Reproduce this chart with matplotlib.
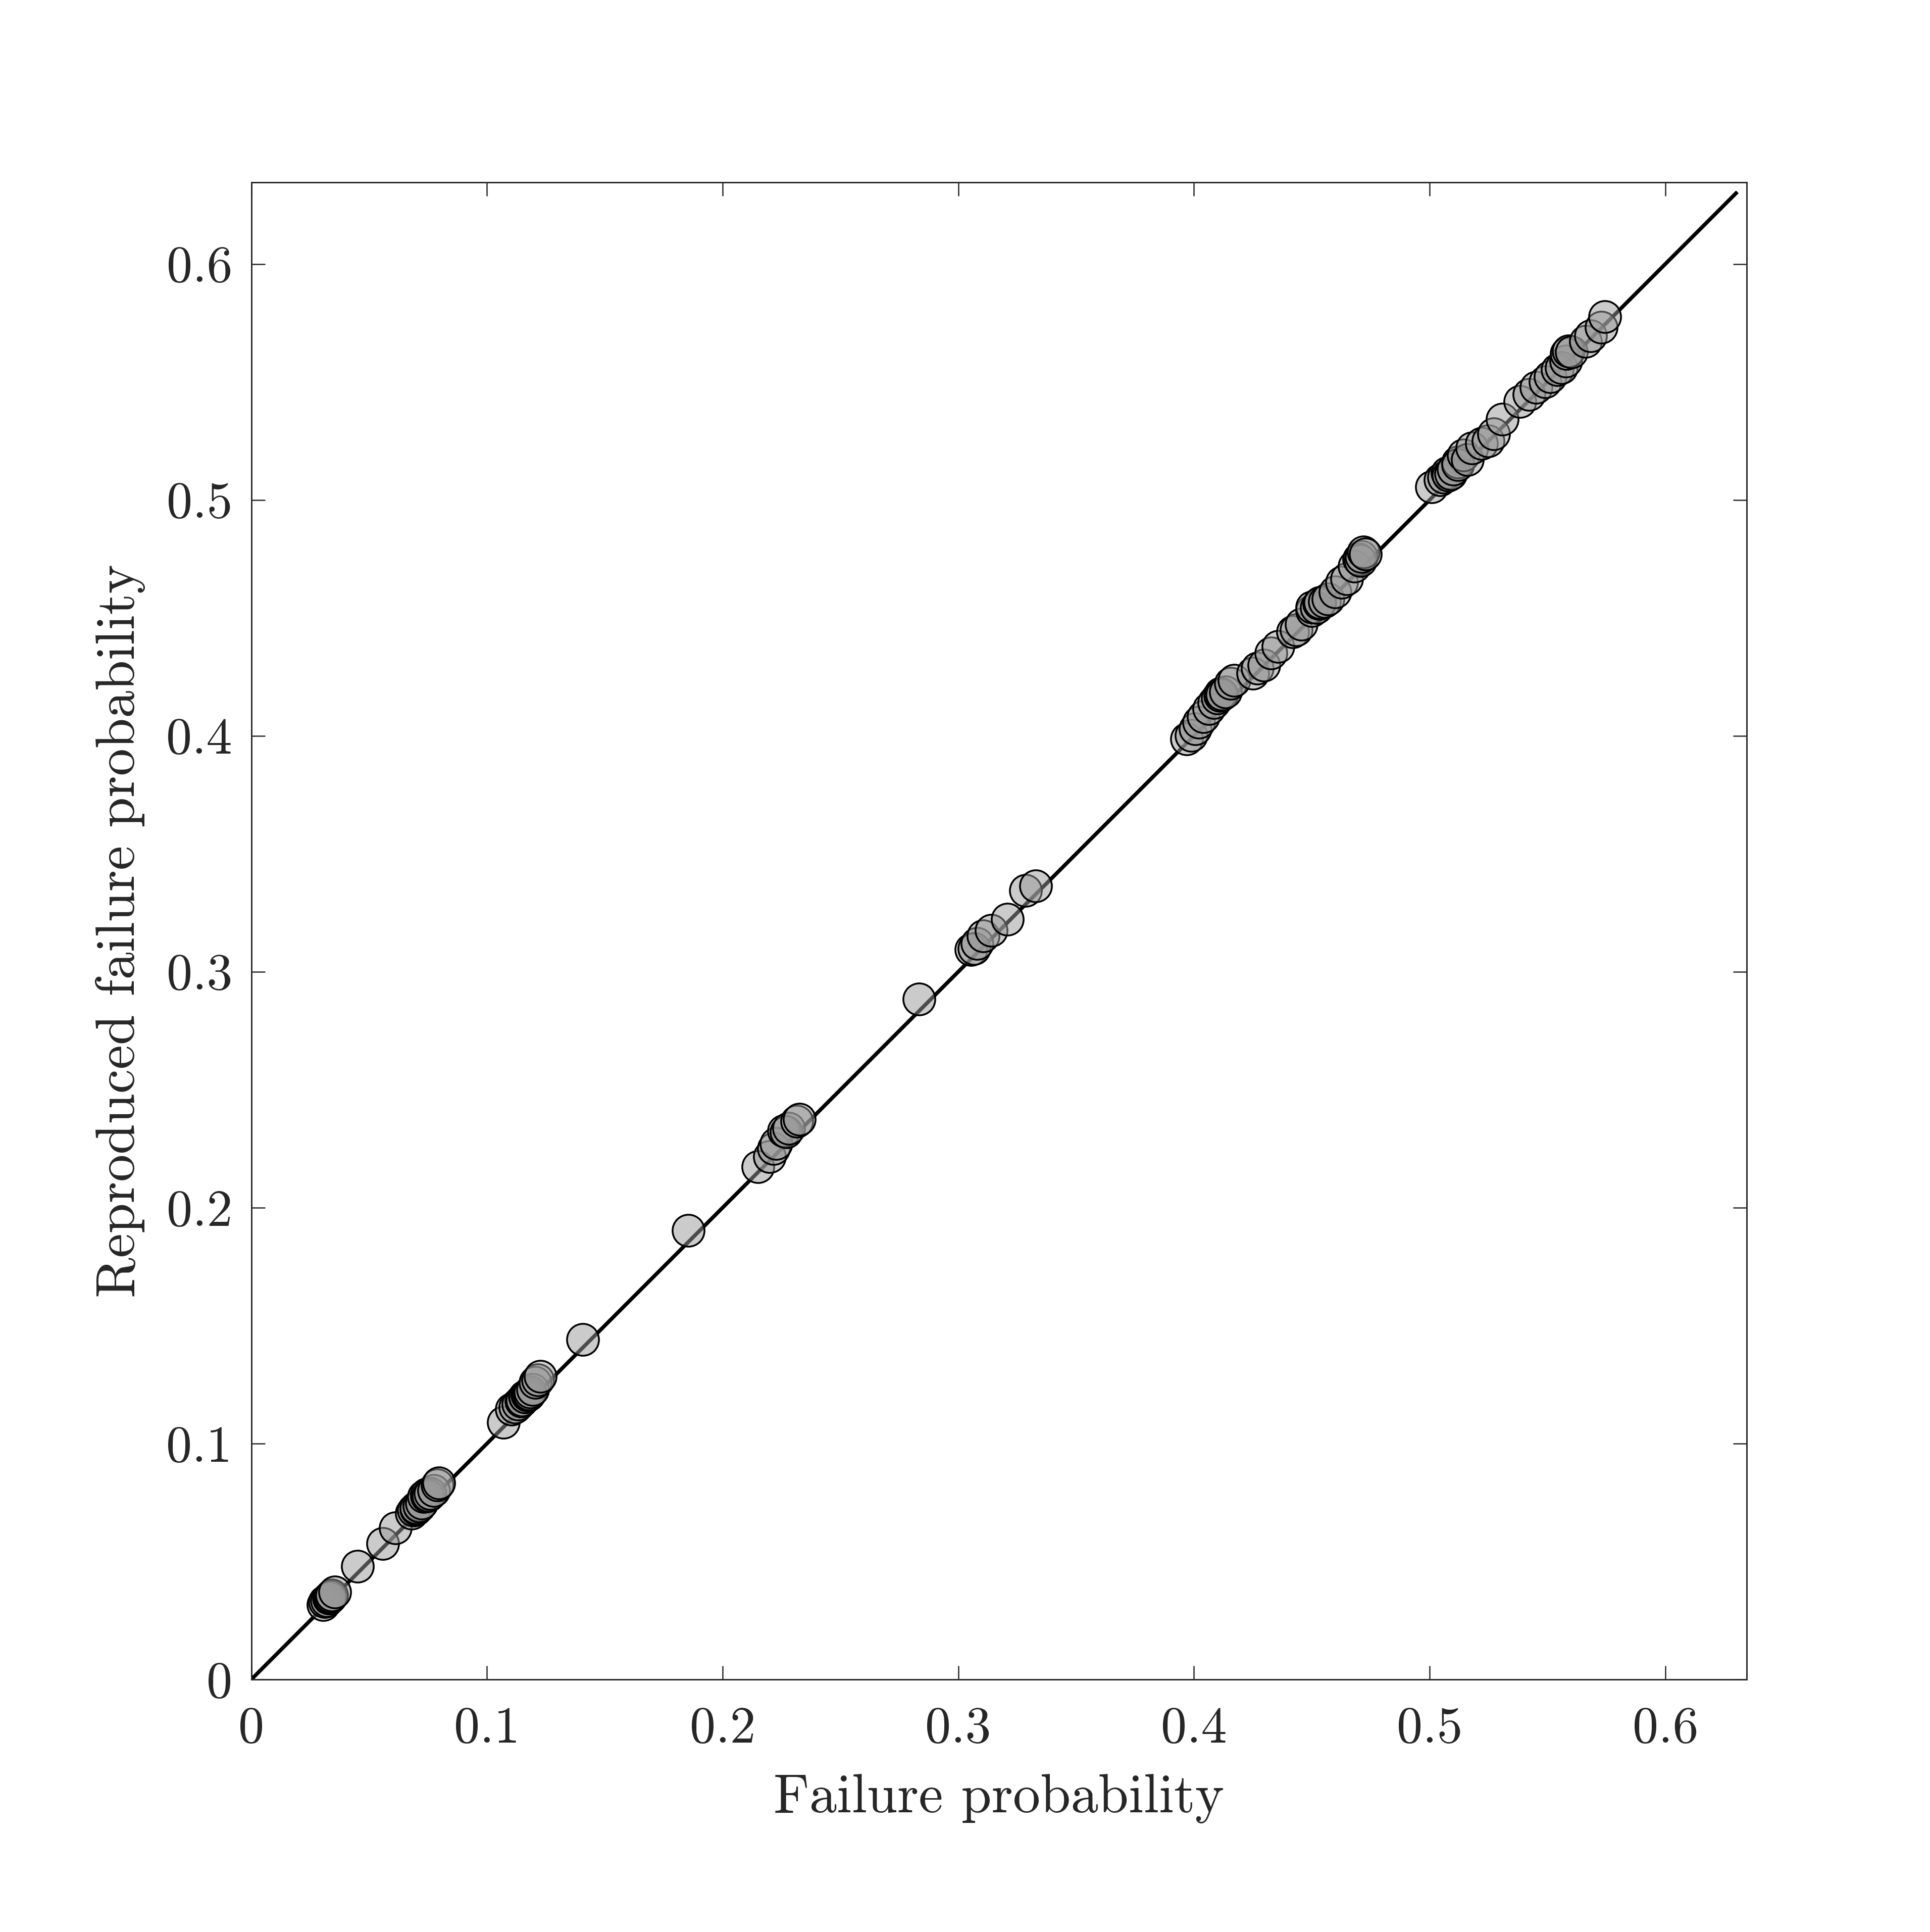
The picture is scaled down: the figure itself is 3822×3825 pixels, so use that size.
import matplotlib
matplotlib.use("Agg")
import matplotlib.pyplot as plt

# Failure probability (x) vs reproduced failure probability (y)
pf_cluster_a = [0.0305, 0.0312, 0.0320, 0.0328, 0.0330, 0.0335, 0.0338, 0.0342,
                0.0355]
rp_cluster_a = [0.0318, 0.0330, 0.0335, 0.0345, 0.0345, 0.0350, 0.0352, 0.0358,
                0.0370]

pf_low = [0.0451, 0.0558, 0.0611]
rp_low = [0.0480, 0.0576, 0.0642]

pf_cluster_b = [0.0680, 0.0689, 0.0700, 0.0700, 0.0712, 0.0712, 0.0722, 0.0732,
                0.0745, 0.0745, 0.0750, 0.0760, 0.0775, 0.0789, 0.0795]
rp_cluster_b = [0.0705, 0.0718, 0.0722, 0.0728, 0.0738, 0.0735, 0.0748, 0.0775,
                0.0778, 0.0785, 0.0780, 0.0788, 0.0800, 0.0825, 0.0832]

pf_cluster_c = [0.1070, 0.1105, 0.1120, 0.1133, 0.1145, 0.1150, 0.1160, 0.1162,
                0.1170, 0.1175, 0.1180, 0.1183, 0.1195, 0.1204, 0.1215, 0.1226]
rp_cluster_c = [0.1090, 0.1146, 0.1155, 0.1168, 0.1180, 0.1185, 0.1200, 0.1196,
                0.1205, 0.1205, 0.1210, 0.1218, 0.1230, 0.1260, 0.1270, 0.1285]

pf_mid = [0.1407, 0.1855]
rp_mid = [0.1440, 0.1904]

pf_cluster_d = [0.2151, 0.2200, 0.2216, 0.2227, 0.2260, 0.2270, 0.2281, 0.2315,
                0.2325]
rp_cluster_d = [0.2173, 0.2216, 0.2250, 0.2272, 0.2326, 0.2320, 0.2337, 0.2365,
                0.2375]

pf_single = [0.2834]
rp_single = [0.2885]

pf_cluster_e = [0.3055, 0.3067, 0.3080, 0.3105, 0.3139, 0.3208, 0.3286, 0.3329]
rp_cluster_e = [0.3095, 0.3098, 0.3120, 0.3151, 0.3175, 0.3222, 0.3344, 0.3363]

pf_cluster_f = [0.3970, 0.3988, 0.4005, 0.4020, 0.4040, 0.4063, 0.4085, 0.4100,
                0.4110, 0.4113, 0.4120, 0.4134, 0.4156, 0.4170, 0.4250, 0.4270,
                0.4298, 0.4327, 0.4356, 0.4420, 0.4434, 0.4456, 0.4500, 0.4500,
                0.4520, 0.4530, 0.4534, 0.4555, 0.4570, 0.4600, 0.4627, 0.4649,
                0.4680, 0.4700, 0.4706, 0.4710, 0.4720, 0.4727]
rp_cluster_f = [0.3987, 0.4001, 0.4030, 0.4058, 0.4080, 0.4115, 0.4140, 0.4160,
                0.4170, 0.4180, 0.4175, 0.4186, 0.4222, 0.4235, 0.4265, 0.4286,
                0.4300, 0.4350, 0.4379, 0.4440, 0.4450, 0.4472, 0.4530, 0.4545,
                0.4543, 0.4560, 0.4565, 0.4570, 0.4579, 0.4610, 0.4650, 0.4665,
                0.4720, 0.4750, 0.4743, 0.4760, 0.4779, 0.4770]

pf_cluster_g = [0.5008, 0.5045, 0.5060, 0.5075, 0.5080, 0.5090, 0.5100, 0.5120,
                0.5120, 0.5143, 0.5160, 0.5180, 0.5220, 0.5248, 0.5271, 0.5308,
                0.5384, 0.5421, 0.5451, 0.5490, 0.5511, 0.5541, 0.5560, 0.5579,
                0.5580, 0.5590, 0.5602, 0.5662, 0.5684, 0.5729, 0.5744]
rp_cluster_g = [0.5056, 0.5086, 0.5095, 0.5116, 0.5105, 0.5110, 0.5130, 0.5161,
                0.5150, 0.5191, 0.5170, 0.5221, 0.5240, 0.5251, 0.5281, 0.5341,
                0.5416, 0.5446, 0.5476, 0.5500, 0.5522, 0.5552, 0.5560, 0.5589,
                0.5620, 0.5630, 0.5627, 0.5672, 0.5695, 0.5732, 0.5777]

failure_prob = (pf_cluster_a + pf_low + pf_cluster_b + pf_cluster_c + pf_mid
                + pf_cluster_d + pf_single + pf_cluster_e + pf_cluster_f
                + pf_cluster_g)
reproduced_prob = (rp_cluster_a + rp_low + rp_cluster_b + rp_cluster_c + rp_mid
                   + rp_cluster_d + rp_single + rp_cluster_e + rp_cluster_f
                   + rp_cluster_g)

diag_line = [0.0, 0.63]
ticks = [0, 0.1, 0.2, 0.3, 0.4, 0.5, 0.6]
tick_labels = ["0", "0.1", "0.2", "0.3", "0.4", "0.5", "0.6"]

plt.rcParams["font.family"] = ["cmr10", "DejaVu Serif"]
plt.rcParams["axes.formatter.use_mathtext"] = True

axis_grey = (0.15, 0.15, 0.15)

fig = plt.figure(figsize=(12.74, 12.75), dpi=300)
ax = fig.add_axes([0.1302, 0.1307, 0.7749, 0.7749])

ax.plot(diag_line, diag_line, color="black", linewidth=1.8, zorder=2)
ax.scatter(failure_prob, reproduced_prob, s=230,
           facecolors=[(0.6, 0.6, 0.6, 0.5)], edgecolors="black",
           linewidths=0.85, zorder=3)

ax.set_xlim(0, 0.6346)
ax.set_ylim(0, 0.6346)
ax.set_xticks(ticks)
ax.set_xticklabels(tick_labels)
ax.set_yticks(ticks)
ax.set_yticklabels(tick_labels)

for spine in ax.spines.values():
    spine.set_color(axis_grey)
    spine.set_linewidth(0.7)

ax.tick_params(direction="in", top=True, right=True, length=6.5, width=0.6,
               color=axis_grey, labelcolor=axis_grey, labelsize=24.5)
ax.tick_params(axis="x", pad=13)
ax.tick_params(axis="y", pad=9)

ax.set_xlabel("Failure probability", fontsize=26, color=axis_grey, labelpad=10)
ax.set_ylabel("Reproduced failure probability", fontsize=26, color=axis_grey,
              labelpad=10)

fig.savefig("out.png", dpi=300, facecolor="white")
